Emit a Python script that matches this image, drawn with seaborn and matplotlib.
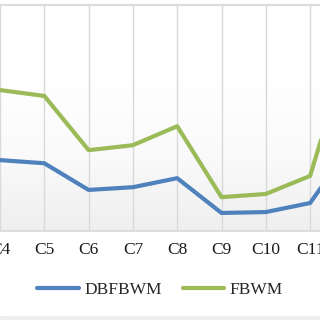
import numpy as np
import pandas as pd
import matplotlib
matplotlib.use("Agg")
import matplotlib.pyplot as plt
import seaborn as sns
from matplotlib.patches import Rectangle

categories = ["C4", "C5", "C6", "C7", "C8", "C9", "C10", "C11", "C12"]
dbfbwm = [0.157, 0.150, 0.091, 0.097, 0.117, 0.040, 0.042, 0.062, 0.200]
fbwm = [0.312, 0.299, 0.179, 0.190, 0.232, 0.075, 0.082, 0.122, 0.445]
series_names = ["DBFBWM", "FBWM"]
colors = ["#4F81BD", "#9BBB59"]

df = pd.DataFrame({
    "cat": categories * 2,
    "x": list(range(len(categories))) * 2,
    "value": dbfbwm + fbwm,
    "series": [series_names[0]] * len(categories) + [series_names[1]] * len(categories),
})

sns.set_theme(style="white")
plt.rcParams["font.family"] = ["Liberation Serif", "DejaVu Serif"]

fig = plt.figure(figsize=(3.2, 3.2), dpi=100)
ax = fig.add_axes([0.0, 0.278, 1.0, 0.706])

sns.lineplot(data=df, x="x", y="value", hue="series", palette=colors,
             linewidth=3.0, ax=ax, legend=False, zorder=3)

for x in range(len(categories)):
    ax.axvline(x, color="#d9d9d9", linewidth=1.0, zorder=1)

# subtle gradient background
grad = np.linspace(0, 1, 256).reshape(-1, 1)
cmap = matplotlib.colors.LinearSegmentedColormap.from_list("g", ["#efefef", "#fafafa", "#ffffff", "#ffffff"])
ax.imshow(grad, extent=[0, 1, 0, 1], transform=ax.transAxes, aspect="auto",
          cmap=cmap, origin="lower", zorder=0)

ax.set_xticks(range(len(categories)))
ax.set_xticklabels(categories, fontsize=12.5, color="#1a1a1a")
ax.set_yticks([])
ax.set_xlabel("")
ax.set_ylabel("")
ax.tick_params(axis="x", length=0, pad=8)
for s in ["left", "right"]:
    ax.spines[s].set_visible(False)
ax.spines["bottom"].set_color("#d9d9d9")
ax.spines["top"].set_color("#dcdcdc")
ax.spines["top"].set_linewidth(1.5)

ax.set_autoscale_on(False)
ax.set_xlim(0, 320 / 44.3)
ax.set_ylim(0, 0.5)

handles = [plt.Line2D([0], [0], color=c, linewidth=3.0) for c in colors]
fig.legend(handles, series_names, loc="center", bbox_to_anchor=(0.5, 0.094),
           ncol=2, frameon=False, fontsize=12.5, handlelength=2.4,
           handletextpad=0.3, columnspacing=1.2)

fig.patches.append(Rectangle((0, 0), 1, 4 / 320, transform=fig.transFigure,
                             color="#eeeeee", zorder=0))

fig.savefig("out.png", dpi=100)
